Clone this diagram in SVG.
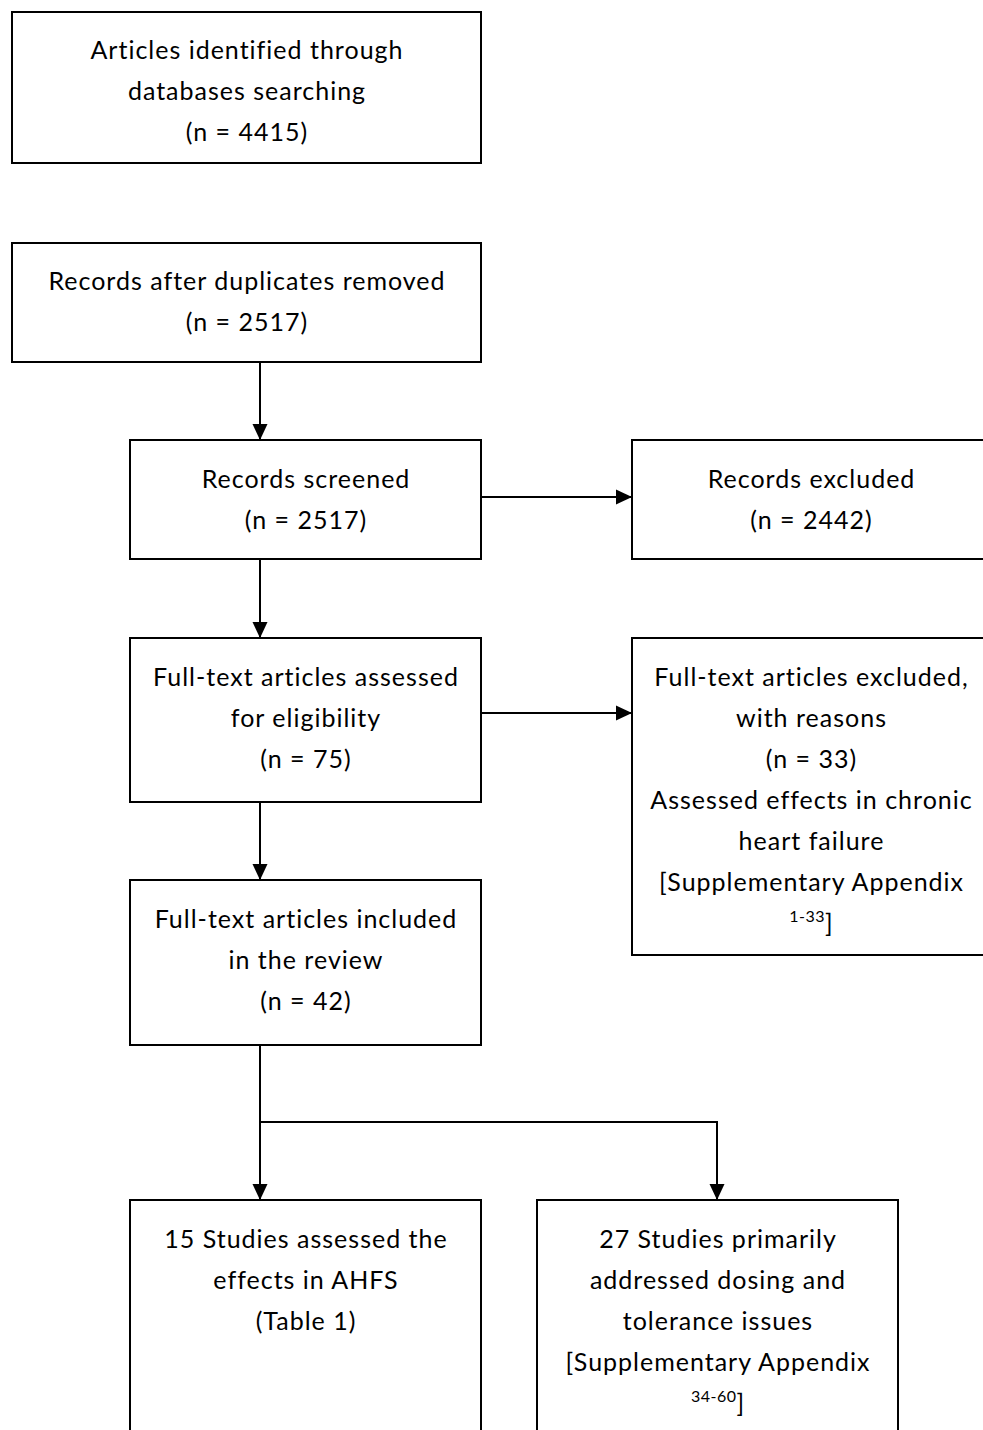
<svg xmlns="http://www.w3.org/2000/svg" width="983" height="1430" viewBox="0 0 983 1430">
<defs>
<style>
.box{fill:#fff;stroke:#000;stroke-width:2}
.t{font-family:Lato,"Open Sans","Liberation Sans",sans-serif;font-size:25px;letter-spacing:1px;fill:#000;text-anchor:middle}
.sup{font-size:16px;letter-spacing:0.5px}
.c{fill:none;stroke:#000;stroke-width:2}
</style>
<marker id="ah" markerUnits="userSpaceOnUse" markerWidth="16" markerHeight="16" viewBox="0 0 16 16" refX="16" refY="8" orient="auto">
<path d="M0,0.5 L16,8 L0,15.5 Z" fill="#000"/>
</marker>
</defs>
<rect width="983" height="1430" fill="#fff"/>
<g id="connectors">
<line class="c" x1="260" y1="362" x2="260" y2="440" marker-end="url(#ah)"/>
<line class="c" x1="481" y1="497" x2="632" y2="497" marker-end="url(#ah)"/>
<line class="c" x1="260" y1="559" x2="260" y2="638" marker-end="url(#ah)"/>
<line class="c" x1="481" y1="713" x2="632" y2="713" marker-end="url(#ah)"/>
<line class="c" x1="260" y1="802" x2="260" y2="880" marker-end="url(#ah)"/>
<line class="c" x1="260" y1="1045" x2="260" y2="1200" marker-end="url(#ah)"/>
<polyline class="c" points="260,1122 717,1122 717,1200" marker-end="url(#ah)"/>
</g>
<g id="n1">
<rect class="box" x="12" y="12" width="469" height="151"/>
<text class="t" x="247" y="59">Articles identified through</text>
<text class="t" x="247" y="100">databases searching</text>
<text class="t" x="247" y="141">(n = 4415)</text>
</g>
<g id="n2">
<rect class="box" x="12" y="243" width="469" height="119"/>
<text class="t" x="247" y="290">Records after duplicates removed</text>
<text class="t" x="247" y="331">(n = 2517)</text>
</g>
<g id="n3">
<rect class="box" x="130" y="440" width="351" height="119"/>
<text class="t" x="306" y="488">Records screened</text>
<text class="t" x="306" y="529">(n = 2517)</text>
</g>
<g id="n4">
<rect class="box" x="632" y="440" width="360" height="119"/>
<text class="t" x="811.5" y="488">Records excluded</text>
<text class="t" x="811.5" y="529">(n = 2442)</text>
</g>
<g id="n5">
<rect class="box" x="130" y="638" width="351" height="164"/>
<text class="t" x="306" y="686">Full-text articles assessed</text>
<text class="t" x="306" y="727">for eligibility</text>
<text class="t" x="306" y="768">(n = 75)</text>
</g>
<g id="n6">
<rect class="box" x="632" y="638" width="360" height="317"/>
<text class="t" x="811.5" y="686">Full-text articles excluded,</text>
<text class="t" x="811.5" y="727">with reasons</text>
<text class="t" x="811.5" y="768">(n = 33)</text>
<text class="t" x="811.5" y="809">Assessed effects in chronic</text>
<text class="t" x="811.5" y="850">heart failure</text>
<text class="t" x="811.5" y="891">[Supplementary Appendix</text>
<text class="t" x="811.5" y="932"><tspan class="sup" dy="-10">1-33</tspan><tspan dy="10">]</tspan></text>
</g>
<g id="n7">
<rect class="box" x="130" y="880" width="351" height="165"/>
<text class="t" x="306" y="928">Full-text articles included</text>
<text class="t" x="306" y="969">in the review</text>
<text class="t" x="306" y="1010">(n = 42)</text>
</g>
<g id="n8">
<rect class="box" x="130" y="1200" width="351" height="240"/>
<text class="t" x="306" y="1248">15 Studies assessed the</text>
<text class="t" x="306" y="1289">effects in AHFS</text>
<text class="t" x="306" y="1330">(Table 1)</text>
</g>
<g id="n9">
<rect class="box" x="537" y="1200" width="361" height="240"/>
<text class="t" x="718" y="1248">27 Studies primarily</text>
<text class="t" x="718" y="1289">addressed dosing and</text>
<text class="t" x="718" y="1330">tolerance issues</text>
<text class="t" x="718" y="1371">[Supplementary Appendix</text>
<text class="t" x="718" y="1412"><tspan class="sup" dy="-10">34-60</tspan><tspan dy="10">]</tspan></text>
</g>
</svg>
